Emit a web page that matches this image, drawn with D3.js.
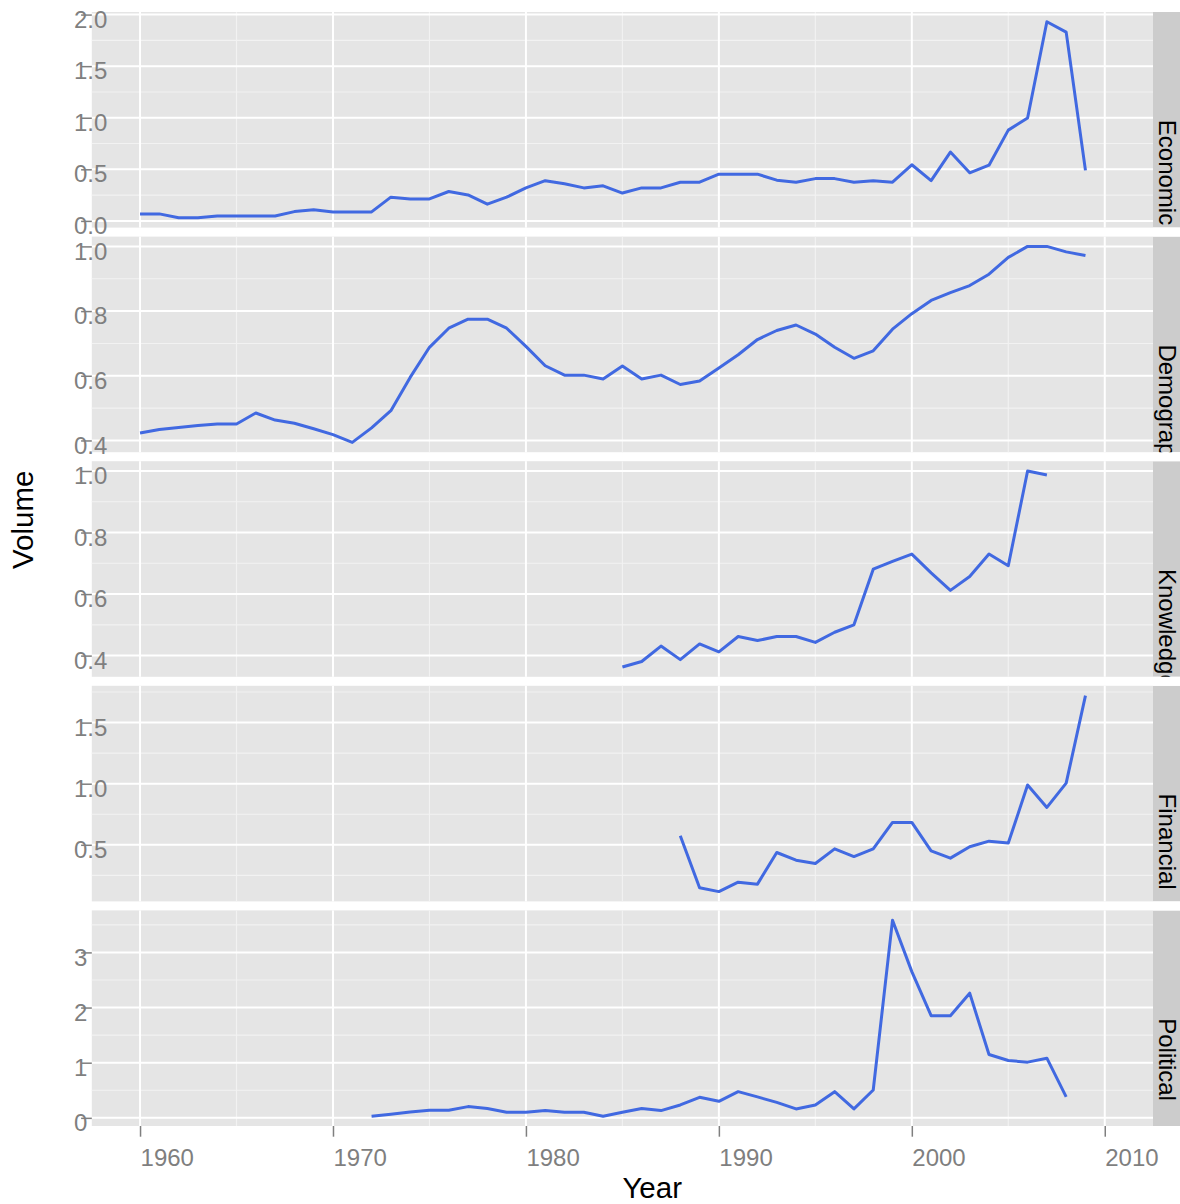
<!DOCTYPE html>
<html>
<head>
<meta charset="utf-8">
<script src="https://cdn.jsdelivr.net/npm/d3@7"></script>
<style>
body { margin: 0; background: #fff; }
svg { display: block; font-family: "Liberation Sans", Arial, Helvetica, sans-serif; }
</style>
</head>
<body>
<div id="chart"></div>
<script>
var width = 1180,
    height = 1204;

// facets, top to bottom
var facets = ["Economic", "Demographic", "Knowledge", "Financial", "Political"];
var startYears = [1960, 1960, 1985, 1988, 1972];

// one value per year, starting at startYears[i]
var economic = [0.068, 0.068, 0.03, 0.03, 0.048, 0.048, 0.048, 0.048, 0.09, 0.107,
                0.087, 0.087, 0.087, 0.23, 0.213, 0.213, 0.285, 0.252, 0.162, 0.23,
                0.32, 0.39, 0.36, 0.32, 0.34, 0.27, 0.32, 0.32, 0.375, 0.375,
                0.453, 0.453, 0.453, 0.395, 0.375, 0.41, 0.41, 0.375, 0.39, 0.375,
                0.544, 0.39, 0.667, 0.466, 0.54, 0.88, 0.997, 1.93, 1.83, 0.49];
var demographic = [0.423, 0.434, 0.440, 0.446, 0.451, 0.451, 0.485, 0.463, 0.453, 0.436,
                   0.418, 0.394, 0.439, 0.492, 0.595, 0.688, 0.747, 0.775, 0.775, 0.747,
                   0.691, 0.631, 0.602, 0.602, 0.590, 0.630, 0.590, 0.602, 0.573, 0.584,
                   0.624, 0.665, 0.712, 0.740, 0.757, 0.729, 0.688, 0.654, 0.677, 0.744,
                   0.792, 0.833, 0.857, 0.879, 0.914, 0.966, 1.000, 1.000, 0.983, 0.972];
var knowledge = [0.363, 0.381, 0.431, 0.387, 0.438, 0.412, 0.462, 0.449, 0.462, 0.462,
                 0.443, 0.476, 0.500, 0.681, 0.706, 0.730, 0.669, 0.612, 0.657, 0.730,
                 0.692, 1.000, 0.987];
var financial = [0.574, 0.148, 0.117, 0.194, 0.178, 0.437, 0.374, 0.347, 0.467, 0.404,
                 0.467, 0.683, 0.683, 0.451, 0.391, 0.484, 0.530, 0.514, 0.989, 0.806,
                 1.005, 1.721];
var political = [0.03, 0.066, 0.108, 0.138, 0.138, 0.204, 0.168, 0.102, 0.102, 0.132,
                 0.102, 0.102, 0.03, 0.102, 0.168, 0.132, 0.234, 0.373, 0.30, 0.475,
                 0.38, 0.28, 0.162, 0.234, 0.475, 0.162, 0.505, 3.584, 2.652, 1.852,
                 1.852, 2.261, 1.149, 1.040, 1.010, 1.082, 0.379];

var valueLists = [economic, demographic, knowledge, financial, political];

var yTicks = [[0, 0.5, 1, 1.5, 2],
              [0.4, 0.6, 0.8, 1.0],
              [0.4, 0.6, 0.8, 1.0],
              [0.5, 1.0, 1.5],
              [0, 1, 2, 3]];
var yFormats = [".1f", ".1f", ".1f", ".1f", "d"];

var xTicks = [1960, 1970, 1980, 1990, 2000, 2010];
var xDomain = [1957.5, 2012.5];

var xTitle = "Year",
    yTitle = "Volume";

// layout
var panelLeft = 91.8,
    panelRight = 1153,
    panelTop = 12,
    panelH = 215.6,
    panelGap = 9,
    tickLen = 10.7,
    bottom = panelTop + 5 * panelH + 4 * panelGap;

var lineColor = "#4169e1",
    textGrey = "#7f7f7f";

function minorOf(ticks, domain) {
  var step = ticks[1] - ticks[0], out = [];
  ticks.forEach(function(t) { out.push(t - step / 2); });
  out.push(ticks[ticks.length - 1] + step / 2);
  return out.filter(function(v) { return v > Math.min(domain[0], domain[1]) && v < Math.max(domain[0], domain[1]); });
}

var svg = d3.select("#chart").append("svg")
    .attr("width", width)
    .attr("height", height);

var x = d3.scaleLinear()
    .domain(xDomain)
    .range([panelLeft, panelRight]);

var xMinor = minorOf(xTicks, xDomain);

var series = facets.map(function(name, i) {
  return {
    name: name,
    points: valueLists[i].map(function(v, j) { return [startYears[i] + j, v]; })
  };
});

var defs = svg.append("defs");

series.forEach(function(s, i) {
  var top = panelTop + i * (panelH + panelGap);
  var ext = d3.extent(s.points, function(d) { return d[1]; });
  var pad = (ext[1] - ext[0]) * 0.05;
  var y = d3.scaleLinear()
      .domain([ext[0] - pad, ext[1] + pad])
      .range([top + panelH, top]);

  var g = svg.append("g").attr("class", "panel");

  g.append("rect")
      .attr("x", panelLeft)
      .attr("y", top)
      .attr("width", panelRight - panelLeft)
      .attr("height", panelH)
      .attr("fill", "#e5e5e5");

  // minor grid
  g.selectAll(".ymin").data(minorOf(yTicks[i], y.domain()))
    .enter().append("line")
      .attr("x1", panelLeft).attr("x2", panelRight)
      .attr("y1", function(d) { return y(d); })
      .attr("y2", function(d) { return y(d); })
      .attr("stroke", "#f2f2f2").attr("stroke-width", 1.1);
  g.selectAll(".xmin").data(xMinor)
    .enter().append("line")
      .attr("x1", function(d) { return x(d); })
      .attr("x2", function(d) { return x(d); })
      .attr("y1", top).attr("y2", top + panelH)
      .attr("stroke", "#f2f2f2").attr("stroke-width", 1.1);

  // major grid
  g.selectAll(".ymaj").data(yTicks[i])
    .enter().append("line")
      .attr("x1", panelLeft).attr("x2", panelRight)
      .attr("y1", function(d) { return y(d); })
      .attr("y2", function(d) { return y(d); })
      .attr("stroke", "#fff").attr("stroke-width", 2);
  g.selectAll(".xmaj").data(xTicks)
    .enter().append("line")
      .attr("x1", function(d) { return x(d); })
      .attr("x2", function(d) { return x(d); })
      .attr("y1", top).attr("y2", top + panelH)
      .attr("stroke", "#fff").attr("stroke-width", 2);

  var line = d3.line()
      .x(function(d) { return x(d[0]); })
      .y(function(d) { return y(d[1]); });

  g.append("path")
      .datum(s.points)
      .attr("d", line)
      .attr("fill", "none")
      .attr("stroke", lineColor)
      .attr("stroke-width", 3)
      .attr("stroke-linejoin", "round");

  // strip
  defs.append("clipPath").attr("id", "strip" + i)
    .append("rect")
      .attr("x", panelRight)
      .attr("y", top)
      .attr("width", 40)
      .attr("height", panelH);

  var strip = svg.append("g").attr("clip-path", "url(#strip" + i + ")");
  strip.append("rect")
      .attr("x", panelRight)
      .attr("y", top)
      .attr("width", 40)
      .attr("height", panelH)
      .attr("fill", "#cccccc");
  strip.append("text")
      .attr("transform", "translate(1159," + (top + panelH / 2) + ") rotate(90)")
      .attr("text-anchor", "start")
      .attr("fill", "#000")
      .style("font-size", "24px")
      .text(s.name);

  // y axis
  var yAxis = d3.axisLeft(y)
      .tickValues(yTicks[i])
      .tickSize(tickLen)
      .tickFormat(d3.format(yFormats[i]));

  var ga = svg.append("g")
      .attr("transform", "translate(" + panelLeft + ",0)")
      .attr("font-family", null)
      .attr("font-size", null)
      .call(yAxis);
  ga.select(".domain").remove();
  ga.selectAll(".tick line").attr("stroke", textGrey).attr("stroke-width", 1.5);
  ga.selectAll(".tick text")
      .attr("x", 74 - panelLeft)
      .attr("dy", 12.6)
      .attr("text-anchor", "start")
      .attr("fill", textGrey)
      .style("font-size", "24px");
});

// x axis
var xAxis = d3.axisBottom(x)
    .tickValues(xTicks)
    .tickSize(tickLen)
    .tickFormat(d3.format("d"));

var gx = svg.append("g")
    .attr("transform", "translate(0," + bottom + ")")
    .attr("font-family", null)
    .attr("font-size", null)
    .call(xAxis);
gx.select(".domain").remove();
gx.selectAll(".tick line").attr("stroke", textGrey).attr("stroke-width", 1.5);
gx.selectAll(".tick text")
    .attr("x", 0)
    .attr("y", 1166 - bottom)
    .attr("dy", 0)
    .attr("text-anchor", "start")
    .attr("fill", textGrey)
    .style("font-size", "24px");

// titles
svg.append("text")
    .attr("x", (panelLeft + panelRight) / 2)
    .attr("y", 1198)
    .attr("text-anchor", "start")
    .style("font-size", "29.5px")
    .text(xTitle);

svg.append("text")
    .attr("transform", "translate(33," + (panelTop + bottom) / 2 + ") rotate(-90)")
    .attr("text-anchor", "start")
    .style("font-size", "29.5px")
    .text(yTitle);
</script>
</body>
</html>
